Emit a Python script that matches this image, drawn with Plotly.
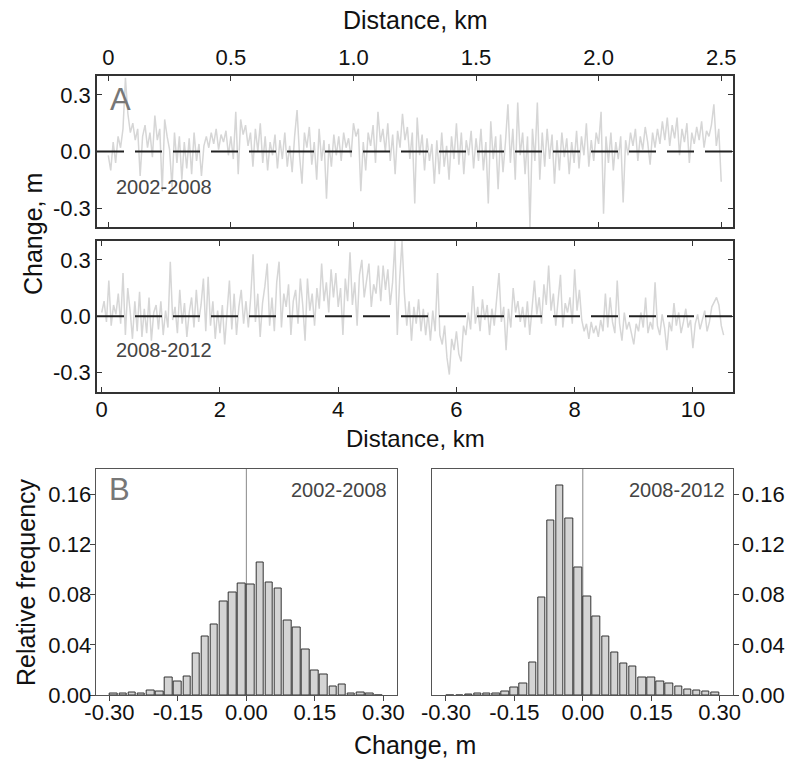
import numpy as np
import plotly.graph_objects as go

# ---------------- data ----------------
# Panel A: 2002-2008 elevation change (m), sampled every 0.01 km
change_2002_2008 = [
    -0.02, -0.10, 0.05, -0.06, 0.08, 0.02, 0.12, 0.39, 0.20, 0.10,
    0.15, 0.06, 0.12, -0.13, 0.08, 0.14, 0.02, 0.10, -0.03, 0.19,
    0.06, 0.12, -0.21, 0.17, 0.08, 0.01, -0.19, 0.10, -0.06, 0.08,
    -0.15, 0.05, -0.09, 0.07, -0.12, 0.10, -0.05, 0.04, -0.13, 0.03,
    0.08, 0.02, 0.10, 0.04, 0.12, 0.01, 0.09, 0.05, 0.11, -0.02,
    0.08, -0.04, 0.21, -0.12, 0.17, 0.09, 0.14, 0.03, 0.10, -0.08,
    0.12, 0.00, 0.15, -0.06, 0.08, -0.10, 0.05, -0.02, 0.09, -0.09,
    0.06, -0.04, 0.10, -0.08, 0.03, -0.11, 0.08, 0.22, -0.02, -0.17,
    0.10, 0.02, 0.13, -0.07, 0.05, -0.15, 0.12, -0.05, 0.06, -0.25,
    0.04, -0.08, 0.09, -0.02, 0.08, -0.05, 0.10, 0.02, 0.07, -0.03,
    0.15, 0.08, 0.12, -0.21, 0.05, -0.10, 0.10, 0.03, 0.14, -0.06,
    0.21, 0.05, 0.12, 0.00, 0.15, -0.05, 0.09, -0.12, 0.11, 0.02,
    0.20, 0.06, 0.13, -0.04, 0.10, -0.275, 0.18, -0.02, 0.09, -0.10,
    0.07, -0.05, 0.04, -0.17, 0.06, -0.12, 0.10, -0.08, 0.03, -0.15,
    0.08, -0.04, 0.15, -0.07, 0.10, -0.12, 0.06, -0.02, 0.11, -0.09,
    0.07, -0.05, 0.12, -0.10, 0.05, -0.275, 0.16, -0.04, 0.08, -0.20,
    0.09, -0.11, 0.05, 0.25, -0.06, 0.12, -0.15, 0.26, -0.02, 0.10,
    -0.12, 0.08, -0.40, 0.12, -0.05, 0.26, -0.15, 0.10, -0.08, 0.12,
    -0.04, 0.09, -0.17, 0.06, -0.10, 0.10, -0.03, 0.07, -0.12, 0.05,
    -0.06, 0.11, -0.09, 0.08, -0.02, 0.15, -0.08, 0.06, -0.05, 0.10,
    0.04, 0.21, -0.33, 0.08, -0.06, 0.10, -0.10, 0.05, -0.04, 0.08,
    -0.27, 0.06, -0.02, 0.10, 0.03, 0.12, -0.05, 0.08, 0.01, 0.13,
    0.05, -0.07, 0.10, 0.02, 0.12, 0.04, 0.16, 0.06, 0.18, 0.03,
    0.14, 0.07, 0.18, -0.02, 0.12, 0.05, 0.15, -0.06, 0.10, 0.04,
    0.13, 0.06, 0.16, 0.02, 0.11, 0.08, 0.14, 0.25, 0.03, 0.12,
    -0.16,
]
step_a_km = 0.01

# Panel A (lower): 2008-2012 elevation change (m), sampled every 0.04 km
change_2008_2012 = [
    0.02, 0.08, -0.03, 0.19, -0.05, 0.06, 0.01, 0.12, -0.04, 0.23,
    -0.10, 0.15, 0.03, -0.12, 0.08, -0.08, 0.13, -0.11, 0.04, -0.09,
    0.10, -0.13, 0.02, 0.06, -0.07,
    0.08, -0.10, 0.03, -0.06, 0.29, -0.02, 0.05, -0.09, 0.14, -0.04,
    0.07, -0.11, 0.02, 0.10, -0.06, 0.14, -0.03, 0.06, 0.20, -0.08,
    0.21, -0.05, 0.08, -0.12, 0.03,
    -0.09, 0.06, -0.15, 0.04, 0.19, -0.07, 0.12, -0.10, 0.05, 0.14,
    -0.04, 0.08, -0.06, 0.10, 0.33, -0.03, 0.12, -0.11, 0.07, 0.16,
    0.28, -0.05, 0.10, -0.08, 0.18,
    0.29, -0.06, 0.12, 0.05, 0.17, -0.10, 0.08, 0.14, -0.04, 0.20,
    0.06, -0.13, 0.20, 0.03, 0.12, -0.05, 0.15, 0.04, 0.28, 0.08,
    0.18, 0.02, 0.25, 0.10, 0.23,
    0.05, 0.15, -0.10, 0.20, 0.08, 0.34, 0.06, 0.18, -0.05, 0.22,
    0.30, 0.10, 0.20, 0.28, 0.05, 0.17, 0.12, 0.27, 0.08, 0.27,
    0.14, 0.25, 0.06, 0.18, 0.40,
    -0.10, 0.20, 0.40, 0.12, -0.05, 0.08, -0.13, 0.05, -0.04, 0.09,
    -0.08, 0.04, -0.10, 0.02, -0.13, 0.03, -0.08, 0.23, -0.10, -0.15,
    -0.05, -0.22, -0.31, -0.12, -0.18,
    -0.08, -0.20, -0.24, -0.05, -0.10, 0.02, -0.07, 0.16, -0.04, 0.05,
    -0.08, 0.09, -0.02, 0.06, -0.10, 0.04, -0.05, 0.08, 0.23, -0.03,
    0.05, -0.18, 0.04, -0.06, 0.15,
    0.02, 0.08, -0.03, 0.05, -0.06, 0.08, -0.10, 0.04, 0.19, 0.01,
    0.10, -0.04, 0.17, 0.06, 0.27, 0.03, 0.12, -0.05, 0.08, 0.22,
    -0.06, 0.07, 0.02, 0.10, -0.04,
    0.25, 0.03, 0.14, -0.02, -0.08, -0.04, -0.12, -0.03, -0.09, -0.05,
    -0.11, -0.02, -0.08, 0.12, -0.06, 0.10, -0.03, -0.09, 0.19, -0.04,
    -0.13, 0.02, -0.07, -0.03, -0.10,
    -0.15, -0.04, -0.08, 0.02, -0.06, 0.10, -0.09, -0.03, -0.07, 0.18,
    -0.05, -0.10, 0.01, -0.06, -0.18, -0.03, -0.08, 0.07, -0.05, 0.02,
    -0.09, -0.03, 0.04, -0.06, -0.02,
    -0.17, -0.04, 0.01, -0.07, -0.02, 0.03, -0.08, -0.03, 0.05, 0.08,
    0.10, 0.06, -0.05, -0.10,
]
step_b_km = 0.04

# Panel B: histograms (bin centres, m) and relative frequencies
bin_centers = [-0.29, -0.27, -0.25, -0.23, -0.21, -0.19, -0.17, -0.15, -0.13, -0.11,
               -0.09, -0.07, -0.05, -0.03, -0.01, 0.01, 0.03, 0.05, 0.07, 0.09,
               0.11, 0.13, 0.15, 0.17, 0.19, 0.21, 0.23, 0.25, 0.27, 0.29]
freq_2002_2008 = [0.001, 0.0015, 0.002, 0.001, 0.0035, 0.003, 0.014, 0.011, 0.015, 0.033,
                  0.047, 0.056, 0.0745, 0.082, 0.089, 0.088, 0.1055, 0.0895, 0.085, 0.0595,
                  0.054, 0.036, 0.0195, 0.016, 0.007, 0.0085, 0.0015, 0.002, 0.0012, 0.0]
freq_2008_2012 = [0.0, 0.0, 0.0008, 0.001, 0.001, 0.0013, 0.0027, 0.006, 0.009, 0.026,
                  0.0778, 0.139, 0.167, 0.1405, 0.1015, 0.0785, 0.0623, 0.0464, 0.034, 0.025,
                  0.0225, 0.014, 0.014, 0.0106, 0.009, 0.0064, 0.0042, 0.0032, 0.0024, 0.002]

dist_a_ticks = [0, 0.5, 1.0, 1.5, 2.0, 2.5]
dist_a_labels = ["0", "0.5", "1.0", "1.5", "2.0", "2.5"]
dist_b_ticks = [0, 2, 4, 6, 8, 10]
dist_b_labels = ["0", "2", "4", "6", "8", "10"]
chg_ticks = [-0.3, 0.0, 0.3]
chg_labels = ["-0.3", "0.0", "0.3"]
hx_ticks = [-0.30, -0.15, 0.0, 0.15, 0.30]
hx_labels = ["-0.30", "-0.15", "0.00", "0.15", "0.30"]
hy_ticks = [0.0, 0.04, 0.08, 0.12, 0.16]
hy_labels = ["0.00", "0.04", "0.08", "0.12", "0.16"]

# ---------------- figure ----------------
W, H = 789, 761
FONT = "Liberation Sans, Arial, Helvetica, sans-serif"
AX = "#333333"
LINE_GRAY = "#d6d6d6"

def px_x(p):
    return p / W

def px_y(p):
    return 1 - p / H

dist_a = np.arange(len(change_2002_2008)) * step_a_km
dist_b = np.arange(len(change_2008_2012)) * step_b_km

fig = go.Figure()
fig.add_trace(go.Scatter(x=dist_a, y=change_2002_2008, mode="lines",
                         line=dict(color=LINE_GRAY, width=1.5), xaxis="x", yaxis="y",
                         hoverinfo="skip", showlegend=False))
fig.add_trace(go.Scatter(x=dist_b, y=change_2008_2012, mode="lines",
                         line=dict(color=LINE_GRAY, width=1.5), xaxis="x2", yaxis="y2",
                         hoverinfo="skip", showlegend=False))
bar_style = dict(marker=dict(color="#d4d4d4", line=dict(color="#333333", width=1)),
                 width=0.0165, showlegend=False, hoverinfo="skip")
fig.add_trace(go.Bar(x=bin_centers, y=freq_2002_2008, xaxis="x3", yaxis="y3", **bar_style))
fig.add_trace(go.Bar(x=bin_centers, y=freq_2008_2012, xaxis="x4", yaxis="y4", **bar_style))

tickfont = dict(family=FONT, size=22, color="#111111")

def panel_axis(domain, rng, tv, tt, **kw):
    d = dict(domain=domain, range=rng, tickvals=tv, ticktext=tt, ticks="inside",
             ticklen=5, tickwidth=1.2, tickcolor=AX, showline=True, linecolor=AX,
             linewidth=1.5, mirror="ticks", showgrid=False, zeroline=False,
             tickfont=tickfont, automargin=False)
    d.update(kw)
    return d

xa_dom = [px_x(97), px_x(732.5)]
fig.update_layout(
    xaxis=panel_axis(xa_dom, [-0.046, 2.546], dist_a_ticks, dist_a_labels,
                     side="top", anchor="y"),
    yaxis=panel_axis([px_y(227), px_y(76)], [-0.4, 0.4], chg_ticks, chg_labels,
                     anchor="x"),
    xaxis2=panel_axis(xa_dom, [-0.08, 10.67], dist_b_ticks, dist_b_labels,
                      anchor="y2", ticklabelstandoff=-3),
    yaxis2=panel_axis([px_y(391.5), px_y(241)], [-0.4, 0.4], chg_ticks, chg_labels,
                      anchor="x2"),
)

def hist_axis(domain, rng, tv, tt, ticks, **kw):
    d = dict(domain=domain, range=rng, tickvals=tv, ticktext=tt, ticks=ticks,
             ticklen=5, tickwidth=1, tickcolor="#444444", showline=True,
             linecolor="#555555", linewidth=1.2, mirror=True, showgrid=False,
             zeroline=False, tickfont=tickfont, automargin=False)
    d.update(kw)
    return d

def mirror_axis(**kw):
    d = dict(ticks="inside", ticklen=5, tickcolor="#444444", showticklabels=False,
             showline=False, showgrid=False, zeroline=False, automargin=False)
    d.update(kw)
    return d

hy_dom = [px_y(695), px_y(468.5)]
hl_dom = [px_x(95.7), px_x(397)]
hr_dom = [px_x(432.3), px_x(733.3)]
hx_rng = [-0.33, 0.33]
hy_rng = [0, 0.1805]
fig.update_layout(
    xaxis3=hist_axis(hl_dom, hx_rng, hx_ticks, hx_labels, "outside", anchor="y3",
                     ticklabelstandoff=-8),
    yaxis3=hist_axis(hy_dom, hy_rng, hy_ticks, hy_labels, "outside", anchor="x3",
                     ticklabelstandoff=-6),
    xaxis4=hist_axis(hr_dom, hx_rng, hx_ticks, hx_labels, "outside", anchor="y4",
                     ticklabelstandoff=-8),
    yaxis4=hist_axis(hy_dom, hy_rng, hy_ticks, hy_labels, "outside", anchor="x4",
                     side="right", ticklabelstandoff=-2),
    # mirrored tick marks on the opposite sides
    xaxis5=mirror_axis(overlaying="x3", anchor="y3", side="top", range=hx_rng,
                       tickvals=hx_ticks),
    yaxis5=mirror_axis(overlaying="y3", anchor="x3", side="right", range=hy_rng,
                       tickvals=hy_ticks),
    xaxis6=mirror_axis(overlaying="x4", anchor="y4", side="top", range=hx_rng,
                       tickvals=hx_ticks),
    yaxis6=mirror_axis(overlaying="y4", anchor="x4", side="left", range=hy_rng,
                       tickvals=hy_ticks),
)

# dashed zero lines and histogram centre lines
for xr, yr in (("x domain", "y"), ("x2 domain", "y2")):
    fig.add_shape(type="line", xref=xr, yref=yr, x0=0, x1=1, y0=0, y1=0,
                  line=dict(color="#222222", width=2.2, dash="27px,11px"))
for xr, yr in (("x3", "y3 domain"), ("x4", "y4 domain")):
    fig.add_shape(type="line", xref=xr, yref=yr, x0=0, x1=0, y0=0, y1=1,
                  line=dict(color="#888888", width=1), layer="below")

def ann(text, x, y, size, color="#111111", angle=0, xanchor="center", yanchor="middle"):
    fig.add_annotation(text=text, x=x, y=y, xref="paper", yref="paper",
                       showarrow=False, textangle=angle, xanchor=xanchor, yanchor=yanchor,
                       font=dict(family=FONT, size=size, color=color))

ann("Distance, km", px_x(415), px_y(20), 25)
ann("Distance, km", px_x(415), px_y(438), 24)
ann("Change, m", px_x(415), px_y(745), 25)
ann("Change, m", px_x(33), px_y(234), 25, angle=-90)
ann("Relative frequency", px_x(26), px_y(582), 25, angle=-90)
ann("A", px_x(108), px_y(100), 31, color="#777777", xanchor="left")
ann("B", px_x(107), px_y(489), 31, color="#777777", xanchor="left")
ann("2002-2008", px_x(114), px_y(187), 20, color="#444444", xanchor="left")
ann("2008-2012", px_x(114), px_y(350), 20, color="#444444", xanchor="left")
ann("2002-2008", px_x(389), px_y(490), 20, color="#444444", xanchor="right")
ann("2008-2012", px_x(727), px_y(490), 20, color="#444444", xanchor="right")

fig.update_layout(width=W, height=H, margin=dict(l=0, r=0, t=0, b=0),
                  paper_bgcolor="white", plot_bgcolor="white",
                  bargap=0, showlegend=False, font=dict(family=FONT))

fig.write_html("out.html", config={"displayModeBar": False},
               post_script="document.body.style.margin='0';"
                           "document.body.style.padding='0';"
                           "document.body.style.overflow='hidden';")
